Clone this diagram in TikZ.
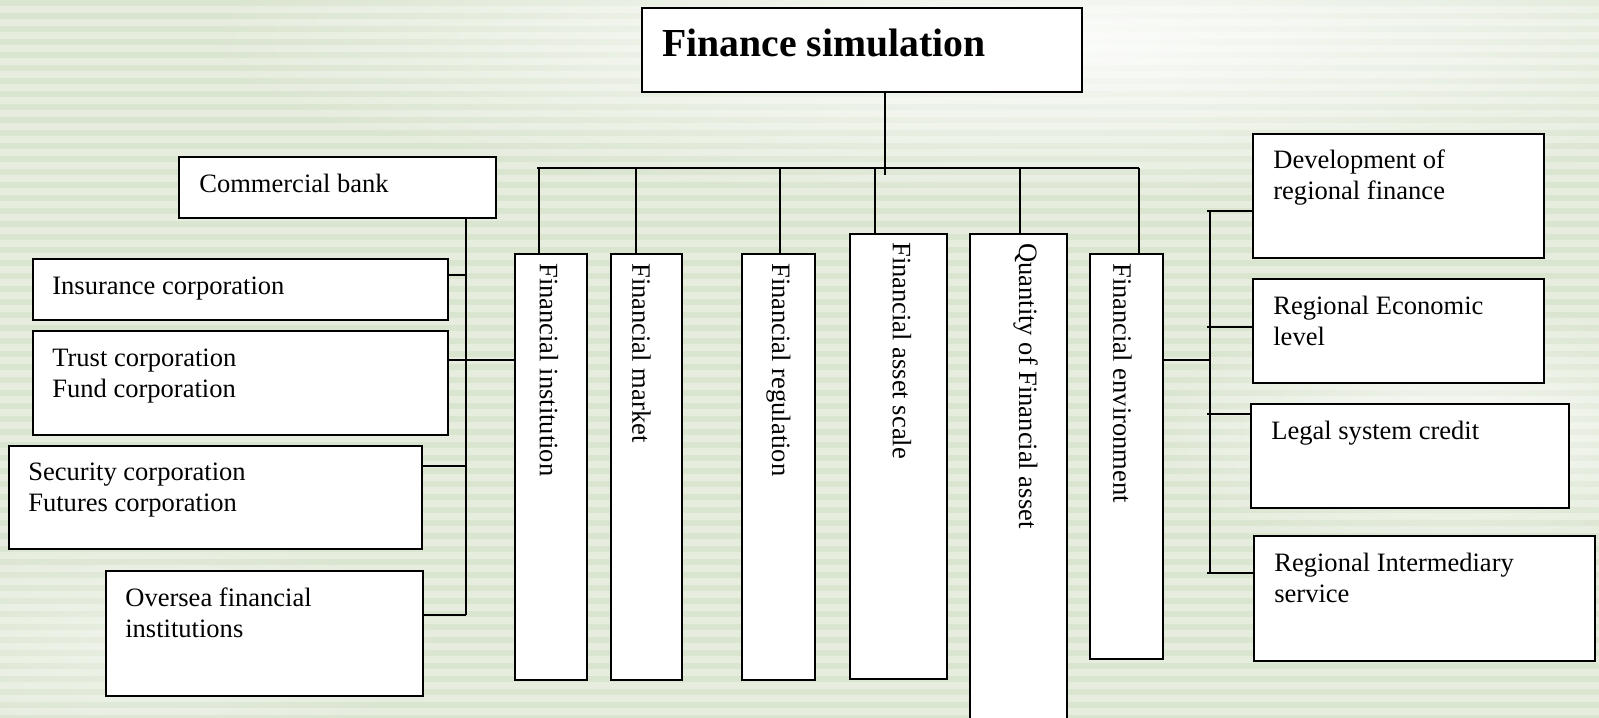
\documentclass[tikz,border=0pt]{standalone}
\usepackage{fontspec}
\setmainfont{Liberation Serif}
\usetikzlibrary{calc, fadings}
\definecolor{bggreen}{RGB}{230,237,222}
\definecolor{stripegreen}{RGB}{218,229,208}
\tikzfading[name=glow, inner color=transparent!0, outer color=transparent!100]
\tikzstyle{box} = [rectangle, 
anchor=north west, 
inner sep=0pt, 
draw=black, 
line width=1.1pt, 
fill=white]
\tikzstyle{lbl} = [anchor=base west, align=left, inner sep=0pt, font=\fontsize{15.1pt}{17.65pt}\selectfont]
\tikzstyle{vlbl} = [rotate=-90, anchor=west, inner sep=0pt, font=\fontsize{15.1pt}{17.65pt}\selectfont]
\tikzstyle{link} = [line width=1.1pt]

\begin{document}
\begin{tikzpicture}
    \useasboundingbox (0,0) rectangle (31.98,-14.36);

    % Striped background
    \begin{scope}
        \clip (0,0) rectangle (31.98,-14.36);
        \fill[bggreen] (0,0) rectangle (31.98,-14.36);
        \foreach \y in {0,0.26,...,14.4}
            \fill[stripegreen] (0,-\y) rectangle (31.98,-\y-0.12);
        \fill[white, path fading=glow, opacity=0.9] (21,-0.8) ellipse (17 and 3.2);
        \fill[white, path fading=glow, opacity=0.7] (29,-8.6) ellipse (6 and 2.6);
        \fill[white, path fading=glow, opacity=0.4] (3,-12.8) ellipse (6 and 2.2);
    \end{scope}

    % Top
    \node (title) [box, minimum width=8.80cm, minimum height=1.68cm] at (12.82,-0.14) {};
    \node (titletxt) [anchor=base west, inner sep=0pt, font=\fontsize{22.6pt}{26pt}\selectfont\bfseries]
        at ($(title.north west)+(0.42,-1.00)$) {Finance simulation};

    % Left group
    \node (cbank) [box, minimum width=6.34cm, minimum height=1.22cm] at (3.56,-3.12) {};
    \node (insur) [box, minimum width=8.30cm, minimum height=1.22cm] at (0.64,-5.16) {};
    \node (trust) [box, minimum width=8.30cm, minimum height=2.08cm] at (0.64,-6.60) {};
    \node (secur) [box, minimum width=8.26cm, minimum height=2.06cm] at (0.16,-8.90) {};
    \node (overs) [box, minimum width=6.34cm, minimum height=2.50cm] at (2.10,-11.40) {};

    % two-line labels sit on their last baseline
    \node (cbanktxt) [lbl] at ($(cbank.north west)+(0.42,-0.74)$) {Commercial bank};
    \node (insurtxt) [lbl] at ($(insur.north west)+(0.40,-0.74)$) {Insurance corporation};
    \node (trusttxt) [lbl] at ($(trust.north west)+(0.40,-1.36)$) {Trust corporation\\Fund corporation};
    \node (securtxt) [lbl] at ($(secur.north west)+(0.40,-1.34)$) {Security corporation\\Futures corporation};
    \node (overstxt) [lbl] at ($(overs.north west)+(0.40,-1.36)$) {Oversea financial\\institutions};

    % Middle columns
    \node (fi) [box, minimum width=1.44cm, minimum height=8.52cm] at (10.28,-5.06) {};
    \node (fm) [box, minimum width=1.42cm, minimum height=8.52cm] at (12.20,-5.06) {};
    \node (fr) [box, minimum width=1.46cm, minimum height=8.52cm] at (14.82,-5.06) {};
    \node (fas) [box, minimum width=1.94cm, minimum height=8.90cm] at (16.98,-4.66) {};
    \node (qfa) [box, minimum width=1.94cm, minimum height=9.78cm] at (19.38,-4.66) {};
    \node (fe) [box, minimum width=1.46cm, minimum height=8.10cm] at (21.78,-5.06) {};

    \node (fitxt) [vlbl] at ($(fi.north)+(-0.04,-0.20)$) {Financial institution};
    \node (fmtxt) [vlbl] at ($(fm.north)+(-0.10,-0.20)$) {Financial market};
    \node (frtxt) [vlbl] at ($(fr.north)+(0,-0.20)$) {Financial regulation};
    \node (fastxt) [vlbl] at ($(fas.north)+(0.07,-0.18)$) {Financial asset scale};
    \node (qfatxt) [vlbl] at ($(qfa.north)+(0.14,-0.20)$) {Quantity of Financial asset};
    \node (fetxt) [vlbl] at ($(fe.north)+(-0.08,-0.20)$) {Financial environment};

    % Right group
    \node (devel) [box, minimum width=5.82cm, minimum height=2.48cm] at (25.04,-2.66) {};
    \node (econ) [box, minimum width=5.82cm, minimum height=2.08cm] at (25.04,-5.56) {};
    \node (legal) [box, minimum width=6.36cm, minimum height=2.08cm] at (25.00,-8.06) {};
    \node (inter) [box, minimum width=6.82cm, minimum height=2.50cm] at (25.06,-10.70) {};

    \node (develtxt) [lbl] at ($(devel.north west)+(0.42,-1.34)$) {Development of\\regional finance};
    \node (econtxt) [lbl] at ($(econ.north west)+(0.42,-1.36)$) {Regional Economic\\level};
    \node (legaltxt) [lbl] at ($(legal.north west)+(0.42,-0.74)$) {Legal system credit};
    \node (intertxt) [lbl] at ($(inter.north west)+(0.42,-1.36)$) {Regional Intermediary\\service};

    % Bus under the title
    \coordinate (hub) at (17.70,-3.50);
    \coordinate (busL) at (10.74,-3.36);
    \coordinate (busR) at (22.78,-3.36);
    \draw [link] (title.south -| hub) -- (hub);
    \draw [link] (busL) -- (busR);
    \foreach \n/\dx in {fi/-0.24, fm/-0.21, fr/0.03, fas/-0.47, qfa/0.03, fe/0.25}
        \draw [link] ($(\n.north)+(\dx,0)$) -- ($(\n.north |- busL)+(\dx,0)$);

    % Left spine
    \coordinate (j2) at (9.32,-5.50);
    \coordinate (j3) at (9.32,-7.20);
    \coordinate (j4) at (9.32,-9.32);
    \coordinate (j5) at (9.32,-12.30);
    \draw [link] (cbank.south -| j5) -- (j5);
    \draw [link] (j2) -- (j2 -| insur.east);
    \draw [link] (j3 -| trust.east) -- (j3 -| fi.west);
    \draw [link] (j4) -- (j4 -| secur.east);
    \draw [link] (j5) -- (j5 -| overs.east);

    % Right spine
    \coordinate (r1) at (24.20,-4.22);
    \coordinate (r2) at (24.20,-6.54);
    \coordinate (r3) at (24.20,-8.28);
    \coordinate (r4) at (24.20,-11.46);
    \coordinate (rmid) at (24.20,-7.20);
    \draw [link] (r1) -- (r4);
    \draw [link] (rmid -| fe.east) -- (rmid);
    \draw [link] ($(r1)+(-0.06,0)$) -- (r1 -| devel.west);
    \draw [link] ($(r2)+(-0.06,0)$) -- (r2 -| econ.west);
    \draw [link] ($(r3)+(-0.06,0)$) -- (r3 -| legal.west);
    \draw [link] ($(r4)+(-0.06,0)$) -- (r4 -| inter.west);
\end{tikzpicture}
\end{document}
